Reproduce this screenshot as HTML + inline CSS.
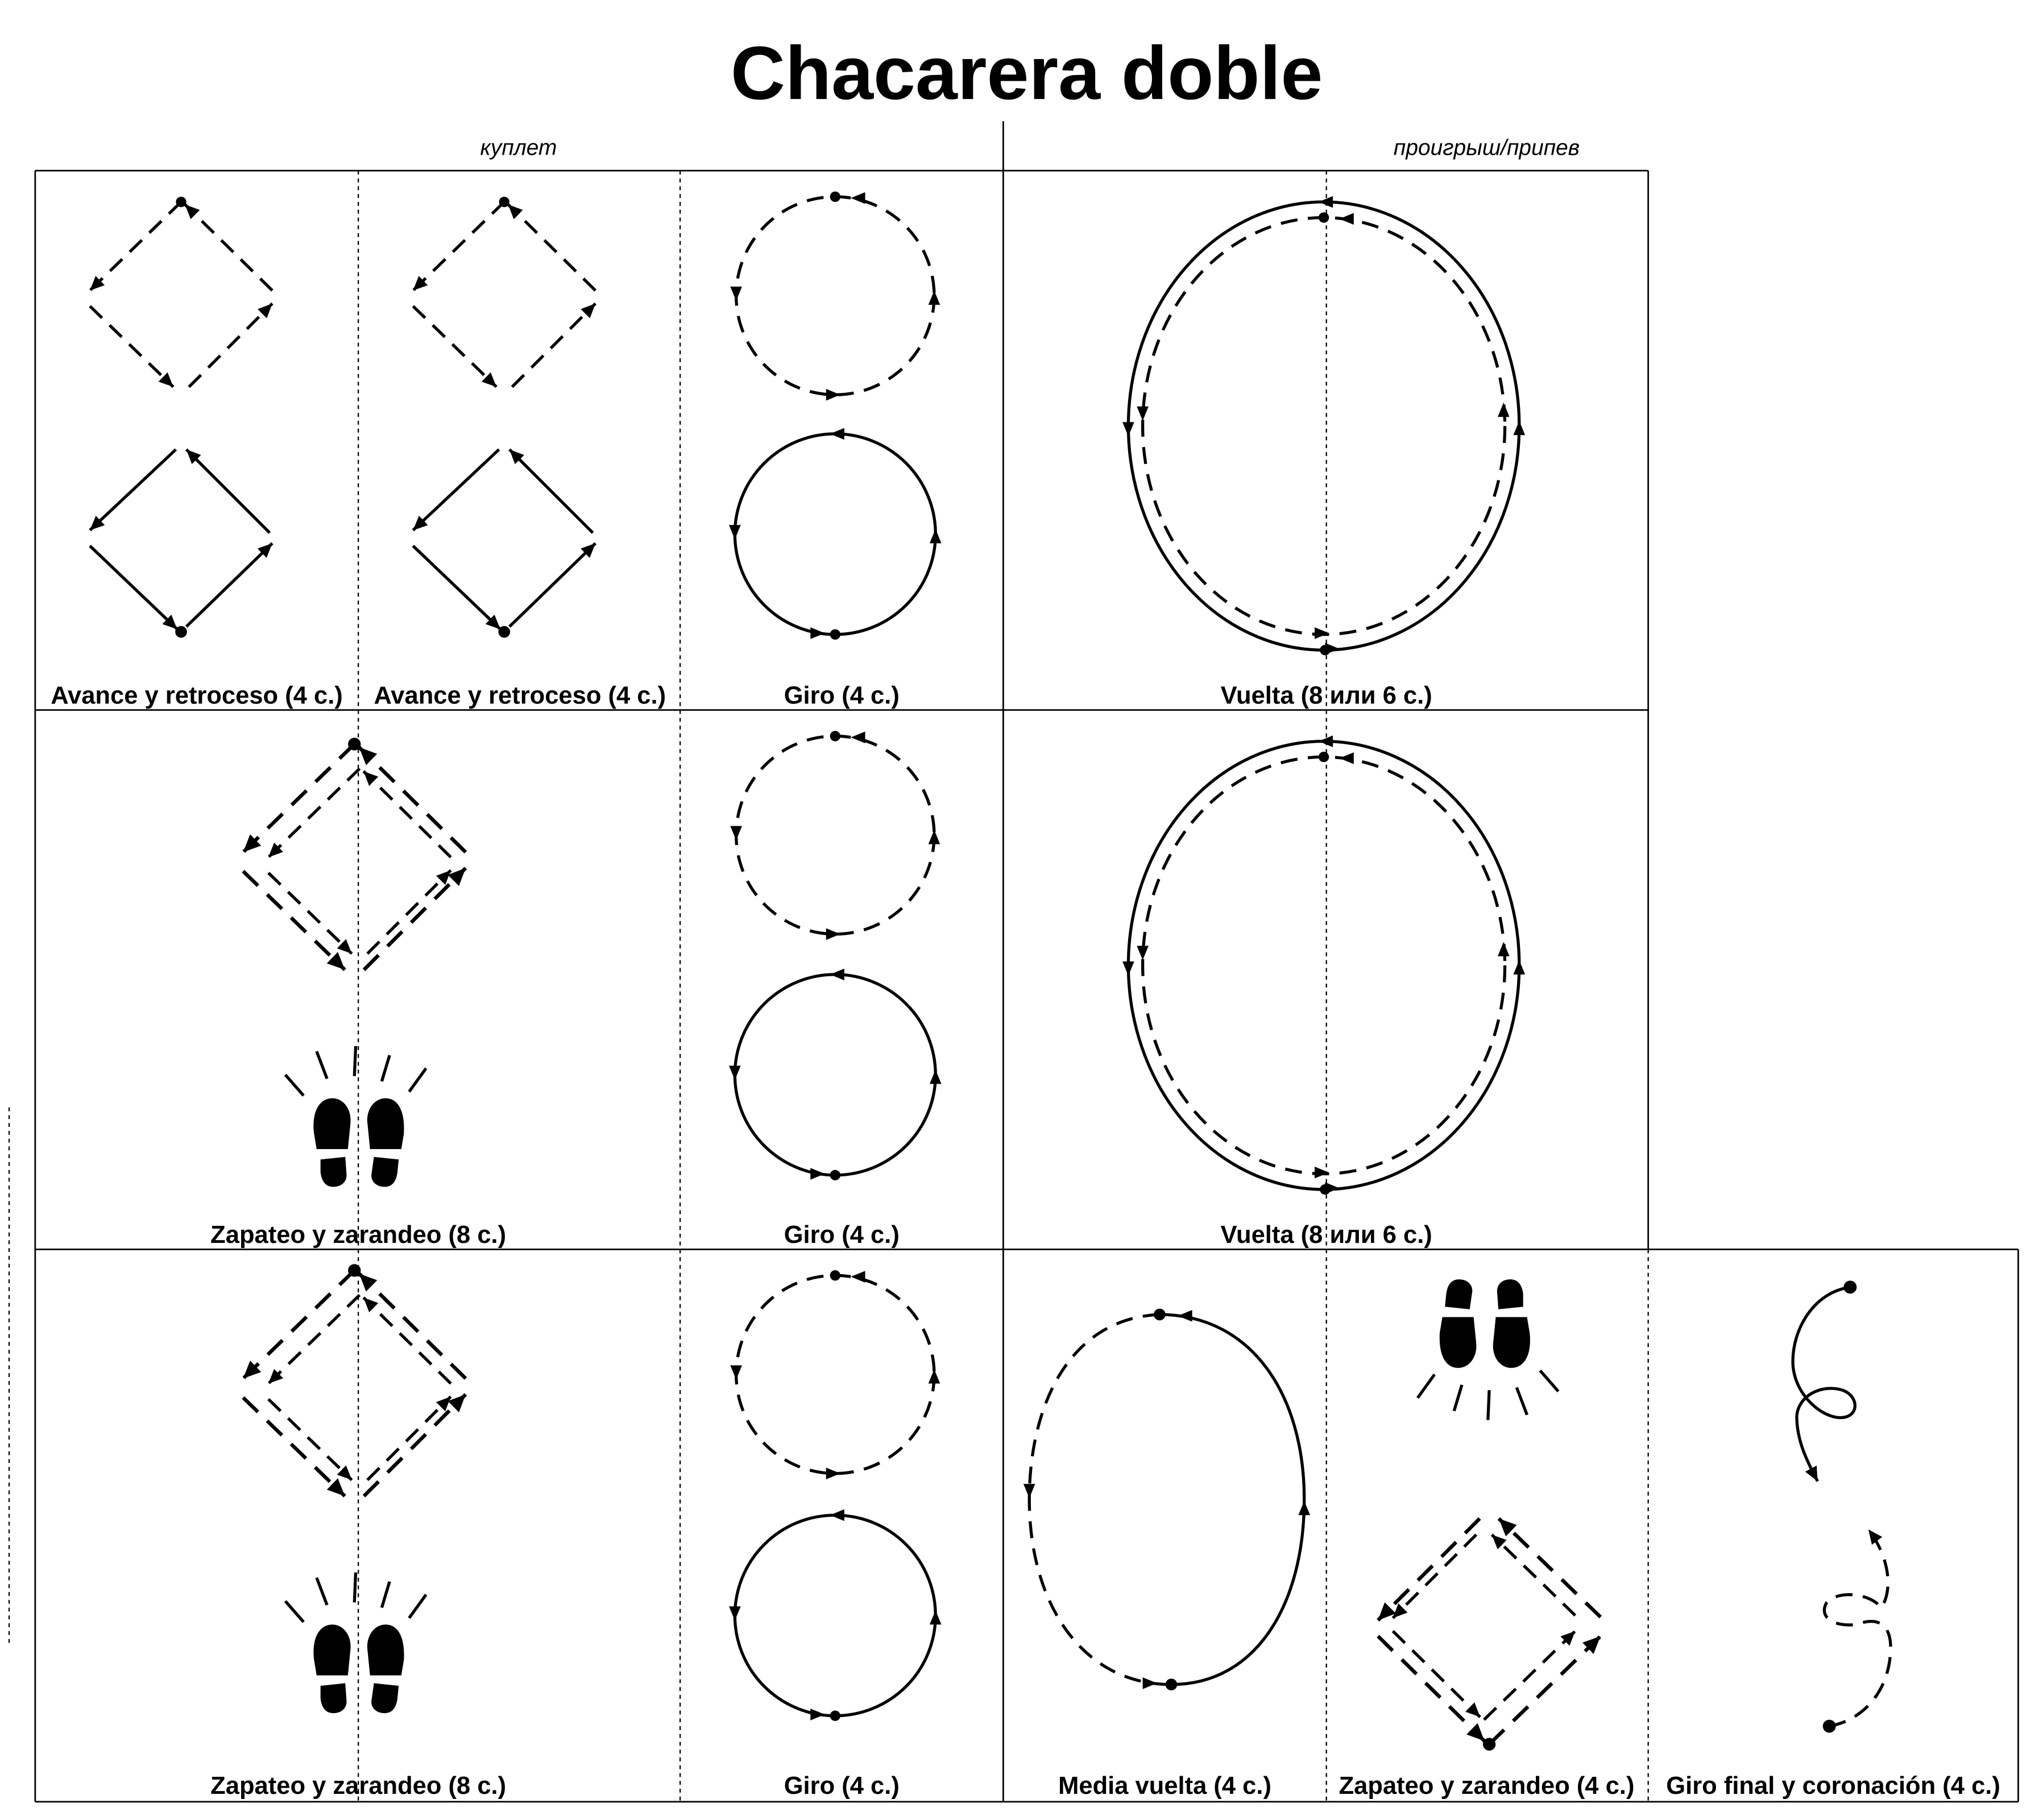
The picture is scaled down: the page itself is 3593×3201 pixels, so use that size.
<!DOCTYPE html>
<html><head><meta charset="utf-8"><style>
html,body{margin:0;padding:0;background:#fff}
svg{display:block}
text{font-family:"Liberation Sans",sans-serif;fill:#000}
.s{fill:none;stroke:#000;stroke-width:2.3}
.d{fill:none;stroke:#000;stroke-width:2.3;stroke-dasharray:13 8}
.g{fill:none;stroke:#000;stroke-width:1.2}
.t{fill:none;stroke:#000;stroke-width:1;stroke-dasharray:3 3}
.lb{font-weight:bold;font-size:19px;text-anchor:middle}
</style></head><body>
<svg width="3593" height="3201" viewBox="0 0 1568 1397" preserveAspectRatio="none" xmlns="http://www.w3.org/2000/svg">
<defs>
<marker id="m" markerUnits="userSpaceOnUse" markerWidth="14" markerHeight="12" refX="11" refY="5" orient="auto"><path d="M0,0 L11,5 L0,10Z" fill="#000"/></marker>
<path id="ah" d="M0,0 L-11,-4.5 L-11,4.5Z" fill="#000"/>
<g id="dd">
<path class="d" d="M0,-72 L-70,-4" marker-end="url(#m)"/>
<path class="d" d="M-70,8 L-6,70" marker-end="url(#m)"/>
<path class="d" d="M6,70 L70,6" marker-end="url(#m)"/>
<path class="d" d="M70,-4 L3,-70" marker-end="url(#m)"/>
</g>
<g id="ddot"><use href="#dd"/><circle cx="0" cy="-72" r="4"/></g>
<g id="sd">
<path class="s" d="M-4,-68 L-70,-6" marker-end="url(#m)"/>
<path class="s" d="M-70,6 L-3,70" marker-end="url(#m)"/>
<path class="s" d="M4,68 L70,4" marker-end="url(#m)"/>
<path class="s" d="M68,-4 L4,-68" marker-end="url(#m)"/>
<circle cx="0" cy="72" r="4.5"/>
</g>
<g id="dcirc">
<circle class="d" cx="0" cy="0" r="76"/>
<circle cx="0" cy="-76" r="4"/>
<use href="#ah" transform="translate(12,-75) rotate(180)"/>
<use href="#ah" transform="translate(-76,4) rotate(90)"/>
<use href="#ah" transform="translate(4,76)"/>
<use href="#ah" transform="translate(76,-4) rotate(-90)"/>
</g>
<g id="scirc">
<circle class="s" cx="0" cy="0" r="77"/>
<circle cx="0" cy="77" r="4"/>
<use href="#ah" transform="translate(-4,-77) rotate(180)"/>
<use href="#ah" transform="translate(-77,4) rotate(90)"/>
<use href="#ah" transform="translate(-8,76)"/>
<use href="#ah" transform="translate(77,-4) rotate(-90)"/>
</g>
<g id="ell">
<ellipse class="s" cx="0" cy="0" rx="150" ry="172"/>
<ellipse class="d" cx="0" cy="0" rx="139" ry="160"/>
<circle cx="0" cy="-160" r="4"/>
<circle cx="1" cy="172" r="4"/>
<use href="#ah" transform="translate(-4,-172) rotate(180)"/>
<use href="#ah" transform="translate(-150,8) rotate(90)"/>
<use href="#ah" transform="translate(12,171)"/>
<use href="#ah" transform="translate(150,-4) rotate(-90)"/>
<use href="#ah" transform="translate(12,-159) rotate(180)"/>
<use href="#ah" transform="translate(-139,-4) rotate(90)"/>
<use href="#ah" transform="translate(4,159)"/>
<use href="#ah" transform="translate(138,-18) rotate(-90)"/>
</g>
<g id="dbl">
<use href="#ddot" transform="translate(272,659) scale(1.22)"/>
<use href="#dd" transform="translate(276,662) scale(1.0)"/>
</g>
<g id="feet">
<path d="M241,870 C239,852 246,843 255,843 C264,843 270,852 269,862 L267,882 L243,882 Z"/>
<path d="M246,890 L265,888 L266,902 C266,908 261,911 256,911 C250,911 247,907 246,900 Z"/>
<path d="M282,862 C281,852 287,843 296,843 C305,843 311,852 310,870 L308,882 L284,882 Z"/>
<path d="M287,888 L306,890 L305,900 C304,907 301,911 295,911 C290,911 285,908 285,902 Z"/>
<g class="s"><path d="M219,825 L233,841"/><path d="M243,807 L251,828"/><path d="M273,803 L272,826"/><path d="M299,810 L293,830"/><path d="M327,820 L314,838"/></g>
</g>
</defs>

<text x="788" y="76" font-size="58" font-weight="bold" text-anchor="middle">Chacarera doble</text>
<text x="398" y="119" font-size="17" font-style="italic" text-anchor="middle">куплет</text>
<text x="1141" y="119" font-size="17" font-style="italic" text-anchor="middle">проигрыш/припев</text>

<g class="g">
<path d="M770,93 L770,1383"/>
<path d="M27,131 L1265,131"/>
<path d="M27,131 L27,1383"/>
<path d="M27,545 L1265,545"/>
<path d="M27,959 L1549,959"/>
<path d="M27,1383 L1549,1383"/>
<path d="M1265,131 L1265,959"/>
<path d="M1549,959 L1549,1383"/>
</g>
<g class="t">
<path d="M275,131 L275,1383"/>
<path d="M522,131 L522,1383"/>
<path d="M1018,131 L1018,1383"/>
<path d="M1265,959 L1265,1383"/>
<path d="M7,850 L7,1262"/>
</g>

<use href="#ddot" transform="translate(139,227)"/>
<use href="#sd" transform="translate(139,413)"/>
<use href="#ddot" transform="translate(387,227)"/>
<use href="#sd" transform="translate(387,413)"/>
<use href="#dcirc" transform="translate(641,227)"/>
<use href="#scirc" transform="translate(641,410)"/>
<use href="#ell" transform="translate(1016,327)"/>

<use href="#dbl"/>
<use href="#feet"/>
<use href="#dcirc" transform="translate(641,641)"/>
<use href="#scirc" transform="translate(641,825)"/>
<use href="#ell" transform="translate(1016,741)"/>

<use href="#dbl" transform="translate(0,404)"/>
<use href="#feet" transform="translate(0,404)"/>
<use href="#dcirc" transform="translate(641,1055)"/>
<use href="#scirc" transform="translate(641,1240)"/>

<path class="d" d="M890,1009 C820,1012 790,1080 790,1151 C790,1230 830,1293 899,1293"/>
<path class="s" d="M899,1293 C965,1293 1001,1230 1001,1151 C1001,1070 960,1009 890,1009"/>
<circle cx="890" cy="1009" r="4.5"/><circle cx="899" cy="1293" r="4.5"/>
<use href="#ah" transform="translate(790,1150) rotate(90)"/>
<use href="#ah" transform="translate(888,1292)"/>
<use href="#ah" transform="translate(1001,1152) rotate(-90)"/>
<use href="#ah" transform="translate(904,1010) rotate(180)"/>

<use href="#feet" transform="translate(1140,1036) rotate(180) translate(-275,-857)"/>
<use href="#dbl" transform="translate(1140,1250) rotate(180) translate(-275,-660)"/>

<path class="s" d="M1420,988 C1392,992 1376,1020 1376,1045 C1376,1068 1395,1086 1410,1088 C1427,1090 1428,1072 1414,1067 C1397,1062 1380,1072 1379,1087 C1379,1105 1386,1120 1395,1137" marker-end="url(#m)"/>
<circle cx="1420" cy="988" r="5"/>
<path class="d" d="M1404,1325 C1432,1320 1452,1295 1451,1262 C1450,1246 1440,1241 1425,1247 C1405,1249 1396,1240 1402,1230 C1410,1221 1434,1222 1444,1234 C1453,1220 1450,1195 1434,1174" marker-end="url(#m)"/>
<circle cx="1404" cy="1325" r="5"/>

<text class="lb" x="151" y="540">Avance y retroceso (4 с.)</text>
<text class="lb" x="399" y="540">Avance y retroceso (4 с.)</text>
<text class="lb" x="646" y="540">Giro (4 с.)</text>
<text class="lb" x="1018" y="540">Vuelta (8 или 6 с.)</text>
<text class="lb" x="275" y="954">Zapateo y zarandeo (8 с.)</text>
<text class="lb" x="646" y="954">Giro (4 с.)</text>
<text class="lb" x="1018" y="954">Vuelta (8 или 6 с.)</text>
<text class="lb" x="275" y="1377">Zapateo y zarandeo (8 с.)</text>
<text class="lb" x="646" y="1377">Giro (4 с.)</text>
<text class="lb" x="894" y="1377">Media vuelta (4 с.)</text>
<text class="lb" x="1141" y="1377">Zapateo y zarandeo (4 с.)</text>
<text class="lb" x="1407" y="1377">Giro final y coronación (4 с.)</text>
</svg>
</body></html>
